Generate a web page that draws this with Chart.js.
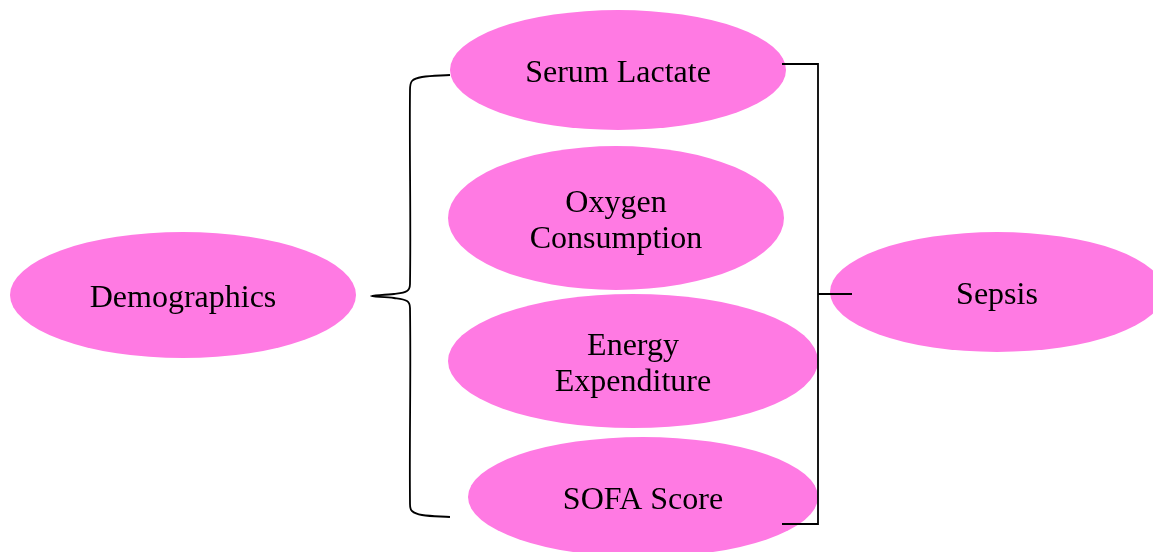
<!DOCTYPE html>
<html>
<head>
<meta charset="utf-8">
<script src="https://cdn.jsdelivr.net/npm/chart.js@4/dist/chart.umd.min.js"></script>
<style>
  html, body { margin: 0; padding: 0; background: #ffffff; }
  #wrap { width: 1153px; height: 552px; }
</style>
</head>
<body>
<div id="wrap"><canvas id="diagram" width="1153" height="552"></canvas></div>
<script>
// ================= Data =================
const nodeLabels = [["Demographics"], ["Serum Lactate"], ["Oxygen", "Consumption"], ["Energy", "Expenditure"], ["SOFA Score"], ["Sepsis"]];
const nodeX = [183, 618, 616, 633, 643, 997];
const nodeY = [295, 70, 218, 361, 497, 292];
const nodeRx = [173, 168, 168, 185, 175, 167];
const nodeRy = [63, 60, 72, 67, 60, 60];

// left brace (curly)
const braceX = [450, 422, 412, 410, 410, 407, 394, 371, 394, 407, 410, 410, 412, 422, 450];
const braceY = [75, 77, 81, 90, 284, 291, 294, 296, 298, 301, 308, 504, 511, 515, 517];

// right bracket
const bracketX = [782, 818, 818, 782];
const bracketY = [64, 64, 524, 524];
const stubX = [818, 852];
const stubY = [294, 294];

const fillColor = "#ff7ae3";

const toPoints = (xs, ys) => xs.map((x, i) => ({ x: x, y: ys[i] }));

// ================= Ellipse + label plugin =================
const nodesPlugin = {
    id: "nodes",
    beforeDatasetsDraw(chart) {
        const c = chart.ctx;
        const sx = chart.scales.x;
        const sy = chart.scales.y;
        c.save();
        c.fillStyle = fillColor;
        nodeX.forEach((x, i) => {
            const cx = sx.getPixelForValue(x);
            const cy = sy.getPixelForValue(nodeY[i]);
            const rx = Math.abs(sx.getPixelForValue(x + nodeRx[i]) - cx);
            const ry = Math.abs(sy.getPixelForValue(nodeY[i] + nodeRy[i]) - cy);
            c.beginPath();
            c.ellipse(cx, cy, rx, ry, 0, 0, Math.PI * 2);
            c.fill();
        });
        c.restore();
    },
    afterDatasetsDraw(chart) {
        const c = chart.ctx;
        const sx = chart.scales.x;
        const sy = chart.scales.y;
        c.save();
        c.fillStyle = "#000000";
        c.font = "32px 'Liberation Serif', 'Times New Roman', serif";
        c.textAlign = "center";
        c.textBaseline = "middle";
        const lineH = 36;
        nodeLabels.forEach((lines, i) => {
            const cx = sx.getPixelForValue(nodeX[i]);
            const cy = sy.getPixelForValue(nodeY[i]);
            const top = cy - (lines.length - 1) * lineH / 2;
            lines.forEach((t, j) => c.fillText(t, cx, top + j * lineH + 4));
        });
        c.restore();
    }
};

// ================= Chart =================
const ctx = document.getElementById("diagram").getContext("2d");

const lineStyle = {
    showLine: true,
    borderColor: "#000000",
    borderWidth: 1.8,
    pointRadius: 0,
    fill: false
};

new Chart(ctx, {
    type: "scatter",
    data: {
        datasets: [
            Object.assign({ data: toPoints(braceX, braceY), tension: 0.35 }, lineStyle),
            Object.assign({ data: toPoints(bracketX, bracketY), tension: 0 }, lineStyle),
            Object.assign({ data: toPoints(stubX, stubY), tension: 0 }, lineStyle)
        ]
    },
    options: {
        responsive: false,
        animation: false,
        layout: { padding: 0 },
        scales: {
            x: { type: "linear", min: 0, max: 1153, display: false },
            y: { type: "linear", min: 0, max: 552, reverse: true, display: false }
        },
        plugins: {
            legend: { display: false },
            tooltip: { enabled: false }
        }
    },
    plugins: [nodesPlugin]
});
</script>
</body>
</html>
